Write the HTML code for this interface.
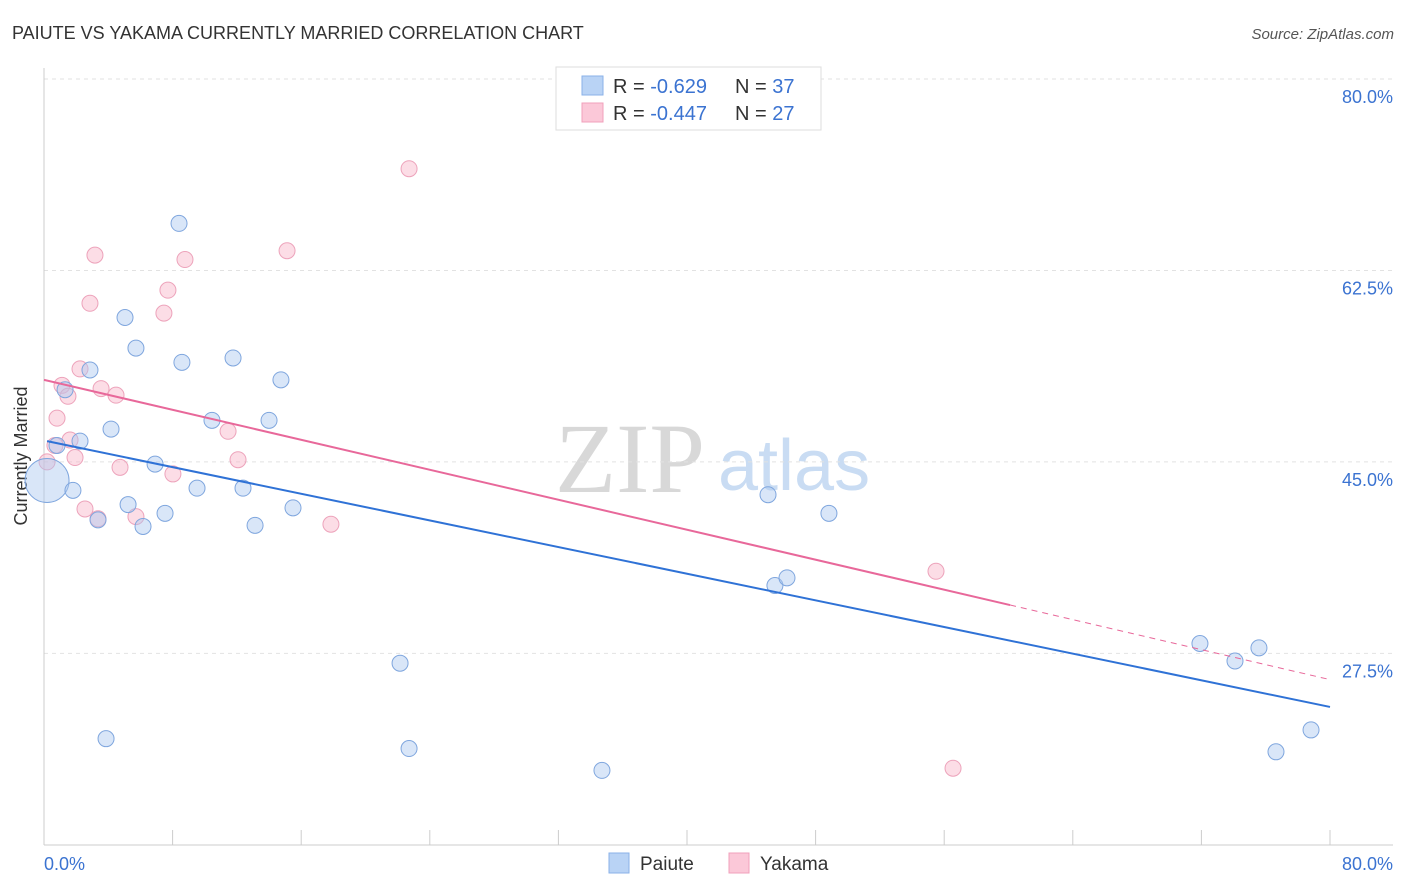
<!DOCTYPE html>
<html><head><meta charset="utf-8"><style>
body{margin:0;background:#fff;font-family:"Liberation Sans",sans-serif;}
svg{display:block}
</style></head><body>
<svg id="chart" width="1406" height="892">
<text x="12" y="39" font-size="18" fill="#333">PAIUTE VS YAKAMA CURRENTLY MARRIED CORRELATION CHART</text>
<text x="1394" y="39" font-size="15" fill="#555" font-style="italic" text-anchor="end">Source: ZipAtlas.com</text>
<text x="27" y="456" font-size="18" fill="#333" text-anchor="middle" transform="rotate(-90 27 456)">Currently Married</text>
<g>
<text x="555" y="492" font-size="100" font-family="Liberation Serif,serif" fill="#d8d8d8">ZIP</text>
<text x="718" y="490" font-size="72" fill="#c9dcf3">atlas</text>
</g>
<g id="grid"></g><g id="axes"></g><g id="marks"></g>
<g>
<rect x="556" y="67" width="265" height="63" fill="#fff" stroke="#ddd"/>
<rect x="582" y="76" width="21" height="19" fill="#b9d3f5" stroke="#8ab2e8"/>
<rect x="582" y="103" width="21" height="19" fill="#fbc8d8" stroke="#f0a0bb"/>
<text x="613" y="93" font-size="20" fill="#333">R = <tspan fill="#3b73d1">-0.629</tspan><tspan x="735">N = </tspan><tspan fill="#3b73d1">37</tspan></text>
<text x="613" y="120" font-size="20" fill="#333">R = <tspan fill="#3b73d1">-0.447</tspan><tspan x="735">N = </tspan><tspan fill="#3b73d1">27</tspan></text>
</g>
<g>
<rect x="609" y="853" width="20" height="20" fill="#b9d3f5" stroke="#8ab2e8"/>
<text x="640" y="870" font-size="19" fill="#333">Paiute</text>
<rect x="729" y="853" width="20" height="20" fill="#fbc8d8" stroke="#f0a0bb"/>
<text x="760" y="870" font-size="19" fill="#333">Yakama</text>
</g>
</svg>
<script>
const yTicks=[80,62.5,45,27.5];
const xTickLabels=["0.0%","80.0%"];
const paiuteX=[0.19,0.81,1.31,1.80,2.24,2.86,3.36,3.86,4.17,5.04,5.23,5.72,6.16,6.91,7.53,8.40,8.58,9.52,10.45,11.76,12.38,13.13,14.00,14.74,15.49,22.15,22.71,34.71,45.04,45.47,46.22,48.83,71.91,74.09,75.58,76.64,78.82];
const paiuteY=[43.3,46.5,51.6,42.4,46.9,53.4,39.7,19.7,48.0,58.2,41.1,55.4,39.1,44.8,40.3,66.8,54.1,42.6,48.8,54.5,42.6,39.2,48.8,52.5,40.8,26.6,18.8,16.8,42.0,33.7,34.4,40.3,28.4,26.8,28.0,18.5,20.5];
const yakamaX=[0.19,0.68,0.81,1.12,1.49,1.93,2.24,2.55,2.86,3.17,3.36,3.55,4.48,4.73,5.72,7.46,7.71,8.02,8.77,11.45,12.07,15.12,17.85,22.71,55.49,56.55,1.62];
const yakamaY=[45.0,46.5,49.0,52.0,51.0,45.4,53.5,40.7,59.5,63.9,39.8,51.7,51.1,44.5,40.0,58.6,60.7,43.9,63.5,47.8,45.2,64.3,39.3,71.8,35.0,17.0,47.0];
const paiuteTrend=[46.9,22.6];
const yakamaTrend=[52.5,25.1];
const NS="http://www.w3.org/2000/svg";
const sx=v=>44+v*1286/80, sy=v=>79+(80-v)*10.94;
function mk(tag,attrs,parent){const e=document.createElementNS(NS,tag);for(const k in attrs)e.setAttribute(k,attrs[k]);parent.appendChild(e);return e;}
const grid=document.getElementById('grid'),axes=document.getElementById('axes'),marks=document.getElementById('marks');
yTicks.forEach(t=>{
 const l=mk('line',{x1:44,x2:1393,y1:sy(t),y2:sy(t),stroke:'#e2e2e2','stroke-dasharray':'4,4'},grid);
 
 
 const tx=mk('text',{x:1393,y:sy(t)+24,'font-size':18,fill:'#3b73d1','text-anchor':'end'},axes);
 tx.textContent=t.toFixed(1)+'%';
 
 
});
mk('line',{x1:44,x2:44,y1:68,y2:845,stroke:'#ccc'},axes);
mk('line',{x1:44,x2:1393,y1:845,y2:845,stroke:'#ccc'},axes);
for(let i=0;i<=10;i++){mk('line',{x1:sx(i*8),x2:sx(i*8),y1:830,y2:845,stroke:'#ccc'},axes);}
const xl0=mk('text',{x:44,y:870,'font-size':18,fill:'#3b73d1'},axes);xl0.textContent=xTickLabels[0];


const xl1=mk('text',{x:1393,y:870,'font-size':18,fill:'#3b73d1','text-anchor':'end'},axes);xl1.textContent=xTickLabels[1];


yakamaX.forEach((x,i)=>{const c=mk('circle',{cx:sx(x),cy:sy(yakamaY[i]),r:8,fill:'rgba(248,180,200,0.45)',stroke:'#eda3bb','stroke-width':1},marks);
 
 });
paiuteX.forEach((x,i)=>{const c=mk('circle',{cx:sx(x),cy:sy(paiuteY[i]),r:i==0?22:8,fill:'rgba(170,200,240,0.45)',stroke:'#7fa6de','stroke-width':1},marks);
 
 });
const ySolidEnd=60.1;
const yk=v=>yakamaTrend[0]+(yakamaTrend[1]-yakamaTrend[0])*v/80;
const t1=mk('line',{x1:sx(0),y1:sy(yk(0)),x2:sx(ySolidEnd),y2:sy(yk(ySolidEnd)),stroke:'#e8689a','stroke-width':2},marks);


const t2=mk('line',{x1:sx(ySolidEnd),y1:sy(yk(ySolidEnd)),x2:sx(80),y2:sy(yk(80)),stroke:'#e8689a','stroke-width':1,'stroke-dasharray':'6,5'},marks);


const t3=mk('line',{x1:sx(0.19),y1:sy(paiuteTrend[0]),x2:sx(80),y2:sy(paiuteTrend[1]),stroke:'#2f72d6','stroke-width':2},marks);


</script>
</body></html>
